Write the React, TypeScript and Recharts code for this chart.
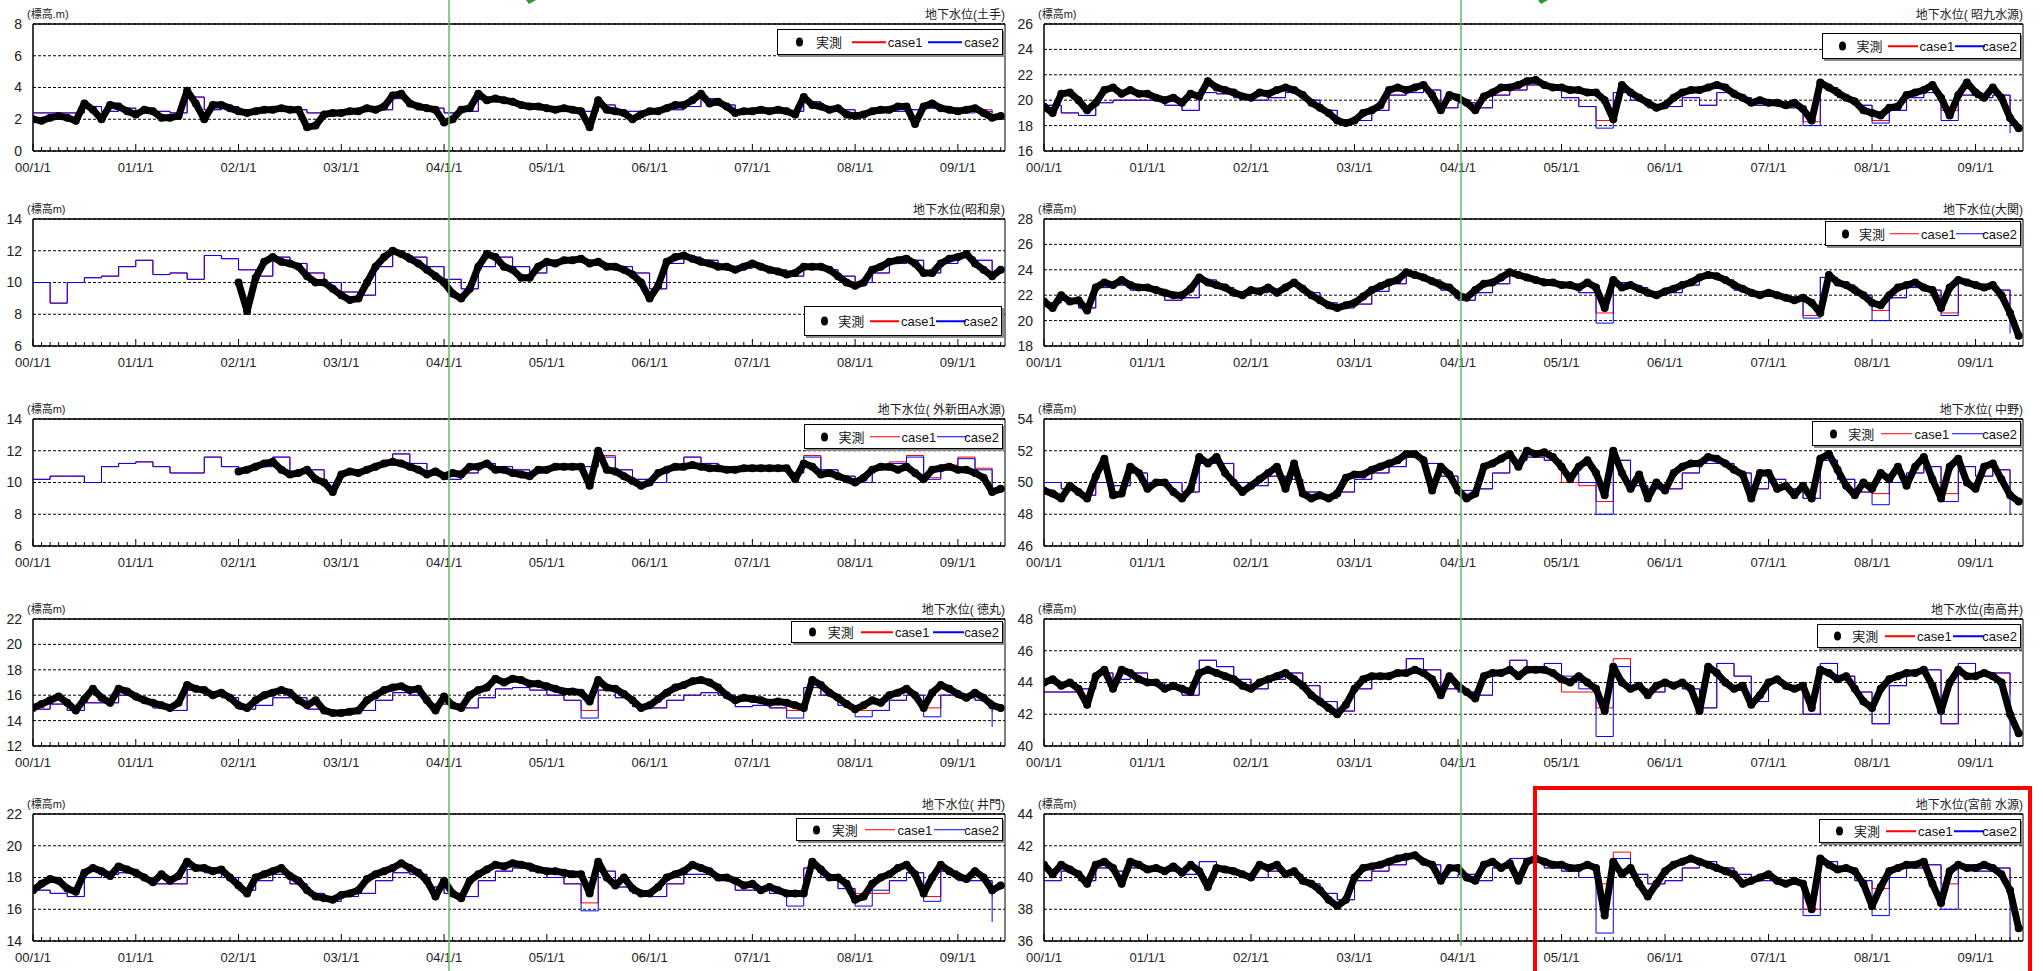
import { LineChart, Line, XAxis, YAxis, CartesianGrid, ReferenceLine } from 'recharts';

// x = months since 2000/1/1, one label per year
const YEAR_LABELS = ['00/1/1', '01/1/1', '02/1/1', '03/1/1', '04/1/1', '05/1/1', '06/1/1', '07/1/1', '08/1/1', '09/1/1'];
const MONTH_TICKS = Array.from({ length: 114 }, (_, i) => i);
const X_END = 113.5;

// 土手
const doteObs = [
  2.0, 1.9, 2.1, 2.2, 2.1, 1.9, 3.0, 2.6, 2.0, 2.9, 2.8, 2.5,
  2.3, 2.6, 2.5, 2.1, 2.1, 2.2, 3.8, 3.0, 2.0, 2.9, 2.9, 2.7,
  2.5, 2.4, 2.5, 2.6, 2.6, 2.7, 2.6, 2.6, 1.5, 1.6, 2.3, 2.4,
  2.4, 2.5, 2.5, 2.7, 2.6, 2.8, 3.5, 3.6, 3.0, 2.8, 2.7, 2.6,
  1.8, 2.0, 2.6, 2.7, 3.6, 3.2, 3.3, 3.2, 3.1, 2.9, 2.8, 2.8,
  2.7, 2.6, 2.7, 2.6, 2.5, 1.5, 3.2, 2.6, 2.5, 2.4, 2.0, 2.3,
  2.5, 2.5, 2.7, 2.9, 2.9, 3.2, 3.6, 3.0, 3.1, 2.8, 2.4, 2.5,
  2.5, 2.6, 2.5, 2.6, 2.5, 2.3, 3.4, 2.9, 2.8, 2.6, 2.7, 2.3,
  2.2, 2.3, 2.5, 2.6, 2.6, 2.8, 2.8, 1.7, 2.8, 3.0, 2.7, 2.6,
  2.5, 2.6, 2.7, 2.4, 2.1, 2.2,
];
// case lines: one value every two months
const doteCase1 = [
  2.4, 2.4, 2.4, 2.8, 2.5, 2.7, 2.4, 2.5, 2.4, 3.4, 2.6, 2.8,
  2.5, 2.5, 2.6, 2.6, 2.4, 2.3, 2.4, 2.5, 2.6, 3.3, 2.9, 2.7,
  2.4, 2.5, 3.3, 3.1, 2.9, 2.7, 2.6, 2.6, 2.5, 2.9, 2.5, 2.5,
  2.5, 2.6, 2.8, 3.3, 2.9, 2.6, 2.6, 2.5, 2.5, 3.1, 2.7, 2.6,
  2.4, 2.5, 2.5, 2.6, 2.7, 2.6, 2.5, 2.6, 2.4,
];
const doteCase2 = [
  2.4, 2.4, 2.4, 2.8, 2.5, 2.7, 2.4, 2.5, 2.4, 3.4, 2.6, 2.8,
  2.5, 2.5, 2.6, 2.6, 2.4, 2.3, 2.4, 2.5, 2.6, 3.3, 2.9, 2.7,
  2.4, 2.5, 3.3, 3.1, 2.9, 2.7, 2.6, 2.6, 2.5, 2.9, 2.5, 2.5,
  2.5, 2.6, 2.8, 3.3, 2.9, 2.5, 2.5, 2.5, 2.5, 3.1, 2.7, 2.6,
  2.4, 2.4, 2.5, 2.6, 2.7, 2.6, 2.4, 2.5, 2.4,
];

// 昭和泉
const showaObs = [
  null, null, null, null, null, null, null, null, null, null, null, null,
  null, null, null, null, null, null, null, null, null, null, null, null,
  10.0, 8.2, 10.3, 11.3, 11.6, 11.3, 11.2, 11.0, 10.4, 10.0, 10.0, 9.6,
  9.2, 8.9, 9.0, 10.0, 11.0, 11.6, 12.0, 11.8, 11.5, 11.2, 10.8, 10.4,
  10.0, 9.3, 9.0, 9.6, 11.0, 11.8, 11.6, 11.0, 10.8, 10.3, 10.3, 11.0,
  11.3, 11.2, 11.4, 11.4, 11.5, 11.2, 11.3, 11.0, 11.0, 10.8, 10.5, 10.0,
  9.0, 9.8, 11.3, 11.6, 11.7, 11.5, 11.3, 11.2, 11.0, 11.0, 10.8, 11.0,
  11.2, 11.0, 10.8, 10.7, 10.5, 10.6, 11.0, 11.0, 11.0, 10.8, 10.4, 10.0,
  9.8, 10.0, 10.8, 11.0, 11.3, 11.4, 11.5, 11.2, 10.6, 10.6, 11.2, 11.5,
  11.6, 11.8, 11.2, 10.8, 10.4, 10.8,
];
const showaCase1 = [
  10.0, 8.7, 10.0, 10.3, 10.4, 11.0, 11.4, 10.5, 10.6, 10.2, 11.7, 11.5,
  10.8, 10.4, 11.6, 11.2, 10.6, 10.0, 9.4, 9.2, 11.0, 11.8, 11.6, 11.0,
  10.2, 9.6, 11.0, 11.6, 11.0, 10.6, 11.4, 11.4, 11.4, 11.2, 11.0, 10.6,
  9.6, 11.2, 11.6, 11.4, 11.0, 10.9, 11.0, 10.8, 10.4, 11.0, 10.8, 10.4,
  10.0, 10.6, 11.2, 11.4, 10.6, 11.2, 11.6, 11.4, 10.6,
];
const showaCase2 = [
  10.0, 8.7, 10.0, 10.3, 10.4, 11.0, 11.4, 10.5, 10.6, 10.2, 11.7, 11.5,
  10.8, 10.4, 11.6, 11.2, 10.6, 10.0, 9.4, 9.2, 11.0, 11.8, 11.6, 11.0,
  10.2, 9.6, 11.0, 11.6, 11.0, 10.6, 11.4, 11.4, 11.4, 11.2, 11.0, 10.6,
  9.6, 11.2, 11.6, 11.4, 11.0, 10.9, 11.0, 10.8, 10.4, 11.0, 10.8, 10.4,
  10.0, 10.6, 11.2, 11.4, 10.6, 11.2, 11.6, 11.4, 10.6,
];

// 外新田A水源
const sotoObs = [
  null, null, null, null, null, null, null, null, null, null, null, null,
  null, null, null, null, null, null, null, null, null, null, null, null,
  10.7, 10.8, 11.0, 11.2, 11.3, 10.8, 10.5, 10.6, 10.8, 10.2, 10.0, 9.4,
  10.5, 10.7, 10.6, 10.8, 11.0, 11.2, 11.3, 11.2, 11.0, 10.8, 10.5, 10.7,
  10.4, 10.6, 10.5, 11.0, 11.0, 11.2, 10.8, 10.8, 10.6, 10.5, 10.4, 10.8,
  10.8, 11.0, 11.0, 11.0, 11.0, 9.8, 12.0, 10.8, 10.7, 10.4, 10.1, 9.8,
  10.0, 10.6, 10.8, 11.0, 11.0, 11.1, 11.0, 10.9, 10.9, 10.8, 10.8, 10.9,
  10.9, 10.9, 10.9, 10.9, 10.9, 10.2, 11.2, 11.0, 10.5, 10.6, 10.4, 10.2,
  10.0, 10.3, 10.8, 11.0, 11.0, 10.8, 11.0, 10.6, 10.2, 10.8, 10.9, 11.0,
  10.8, 10.8, 10.6, 10.3, 9.4, 9.6,
];
const sotoCase1 = [
  10.2, 10.4, 10.4, 10.0, 11.0, 11.2, 11.3, 11.0, 10.6, 10.6, 11.6, 11.0,
  10.8, 11.0, 11.6, 10.6, 10.8, 10.0, 10.5, 10.8, 11.2, 11.8, 11.2, 10.6,
  10.2, 10.6, 11.2, 11.0, 10.8, 10.6, 11.0, 11.1, 11.0, 11.7, 10.8, 10.2,
  10.0, 10.8, 11.6, 11.2, 11.0, 10.9, 10.9, 10.8, 10.6, 11.7, 10.8, 10.4,
  10.0, 10.8, 11.3, 11.7, 10.3, 11.1, 11.6, 10.9, 9.8,
];
const sotoCase2 = [
  10.2, 10.4, 10.4, 10.0, 11.0, 11.2, 11.3, 11.0, 10.6, 10.6, 11.6, 11.0,
  10.8, 11.0, 11.6, 10.6, 10.8, 10.0, 10.5, 10.8, 11.2, 11.8, 11.2, 10.6,
  10.2, 10.6, 11.2, 11.0, 10.8, 10.6, 11.0, 11.1, 11.0, 11.6, 10.8, 10.2,
  10.0, 10.8, 11.6, 11.2, 11.0, 10.9, 10.9, 10.8, 10.6, 11.6, 10.8, 10.4,
  10.0, 10.8, 11.2, 11.6, 10.2, 11.0, 11.5, 10.8, 9.6,
];

// 徳丸
const tokumaruObs = [
  15.0, 15.3, 15.6, 15.9, 15.4, 14.8, 15.7, 16.5, 15.8, 15.4, 16.5, 16.3,
  15.9, 15.6, 15.4, 15.2, 15.0, 15.4, 16.8, 16.5, 16.4, 16.0, 16.2, 15.8,
  15.2, 15.0, 15.6, 16.0, 16.2, 16.4, 16.2, 15.6, 15.2, 15.6, 14.8, 14.6,
  14.6, 14.7, 14.8, 15.6, 16.0, 16.4, 16.6, 16.7, 16.4, 16.5, 15.6, 14.8,
  15.9, 15.2, 15.0, 16.0, 16.4, 16.6, 17.3, 17.0, 17.3, 17.2, 16.9, 16.9,
  16.7, 16.5, 16.3, 16.3, 16.2, 15.5, 17.2, 16.6, 16.5, 16.1, 15.6, 15.0,
  15.2, 15.7, 16.2, 16.6, 16.8, 17.1, 17.2, 17.0, 16.6, 16.0, 15.6, 15.8,
  15.7, 15.6, 15.4, 15.5, 15.4, 15.2, 15.0, 17.2, 16.8, 16.2, 15.8, 15.3,
  14.9, 15.2, 15.6, 15.4, 16.0, 16.2, 16.5, 16.0, 15.0, 16.2, 16.8, 16.5,
  16.1, 15.8, 16.2, 15.8, 15.2, 15.0,
];
const tokumaruCase1 = [
  14.9, 15.3, 14.8, 15.4, 15.4, 16.0, 15.6, 15.0, 14.8, 16.4, 16.0, 15.8,
  14.9, 15.2, 15.8, 15.8, 14.9, 14.6, 14.6, 14.8, 15.6, 16.2, 16.0, 15.3,
  15.3, 15.0, 15.8, 16.5, 16.6, 16.4, 16.0, 15.6, 14.8, 16.4, 15.8, 15.1,
  15.0, 15.6, 16.0, 16.2, 16.0, 15.1, 15.2, 15.0, 14.8, 16.6, 16.0, 15.2,
  14.8, 14.8, 15.6, 16.0, 15.0, 16.0, 15.8, 15.6, 14.7,
];
const tokumaruCase2 = [
  14.9, 15.3, 14.8, 15.4, 15.4, 16.0, 15.6, 15.0, 14.8, 16.4, 16.0, 15.8,
  14.9, 15.2, 15.8, 15.8, 14.9, 14.6, 14.6, 14.8, 15.6, 16.2, 16.0, 15.3,
  15.3, 15.0, 15.8, 16.5, 16.6, 16.4, 16.0, 15.6, 14.2, 16.4, 15.8, 15.1,
  15.0, 15.6, 16.0, 16.2, 16.0, 15.1, 15.2, 15.0, 14.2, 16.6, 16.0, 15.2,
  14.3, 14.8, 15.6, 16.0, 14.3, 16.0, 15.8, 15.6, 13.5,
];

// 井門
const imonObs = [
  17.2, 17.6, 17.9, 17.8, 17.3, 17.1, 18.3, 18.6, 18.4, 18.1, 18.7, 18.5,
  18.3, 18.0, 17.7, 18.2, 17.8, 18.1, 19.0, 18.6, 18.6, 18.4, 18.5, 18.0,
  17.5, 17.0, 18.0, 18.2, 18.4, 18.6, 18.1, 17.8, 17.2, 16.8, 16.7, 16.6,
  16.9, 17.0, 17.2, 17.9, 18.2, 18.4, 18.6, 18.9, 18.6, 18.3, 17.8, 16.8,
  17.8, 17.0, 16.7, 17.8, 18.2, 18.5, 18.8, 18.7, 18.9, 18.8, 18.7, 18.5,
  18.4, 18.4, 18.3, 18.2, 18.2, 17.0, 19.0, 18.0, 17.5, 18.0, 17.3, 17.0,
  17.0, 17.4, 18.0, 18.2, 18.4, 18.8, 18.6, 18.4, 18.0, 18.0, 17.8, 17.5,
  17.6, 17.2, 17.4, 17.2, 17.0, 17.0, 17.0, 19.0, 18.5, 18.0, 18.0, 17.6,
  16.6, 16.8, 17.6, 18.0, 18.2, 18.6, 18.8, 18.2, 17.0, 18.0, 18.8, 18.4,
  18.1, 17.9, 18.4, 18.0, 17.2, 17.5,
];
const imonCase1 = [
  17.2, 17.0, 16.8, 18.0, 18.2, 18.3, 18.0, 17.6, 17.6, 18.5, 18.3, 18.0,
  17.2, 17.8, 18.2, 17.6, 17.0, 16.5, 16.8, 17.0, 17.8, 18.3, 18.2, 17.4,
  17.0, 16.8, 17.8, 18.4, 18.6, 18.4, 18.0, 17.6, 16.4, 18.4, 17.4, 17.0,
  16.8, 17.6, 18.2, 18.2, 17.8, 17.2, 17.2, 17.0, 16.9, 18.6, 18.0, 17.3,
  17.0, 17.0, 17.8, 18.3, 16.8, 18.4, 17.8, 17.8, 16.8,
];
const imonCase2 = [
  17.2, 17.0, 16.8, 18.0, 18.2, 18.3, 18.0, 17.6, 17.6, 18.5, 18.3, 18.0,
  17.2, 17.8, 18.2, 17.6, 17.0, 16.5, 16.8, 17.0, 17.8, 18.3, 18.2, 17.4,
  17.0, 16.8, 17.8, 18.4, 18.6, 18.4, 18.0, 17.6, 15.9, 18.4, 17.4, 17.0,
  16.8, 17.6, 18.2, 18.2, 17.8, 17.2, 17.2, 17.0, 16.2, 18.6, 18.0, 17.3,
  16.2, 17.2, 17.8, 18.3, 16.5, 18.4, 17.8, 17.8, 15.2,
];

// 昭九水源
const shokyuObs = [
  19.5, 19.0, 20.5, 20.6, 20.0, 19.2, 19.8, 20.8, 21.0, 20.5, 20.8, 20.5,
  20.5, 20.2, 20.0, 20.2, 19.8, 20.5, 20.3, 21.5, 21.0, 20.8, 20.6, 20.3,
  20.2, 20.6, 20.5, 20.8, 21.0, 20.8, 20.4, 19.8, 19.4, 19.0, 18.4, 18.2,
  18.4, 19.0, 19.2, 19.6, 20.8, 21.0, 20.8, 21.0, 21.2, 20.4, 19.2, 20.4,
  20.2, 19.8, 19.2, 20.3, 20.6, 21.0, 21.0, 21.2, 21.5, 21.6, 21.2, 21.0,
  21.0, 20.8, 20.8, 20.6, 20.6, 20.0, 18.5, 21.2, 20.6, 20.2, 19.8, 19.4,
  19.6, 20.2, 20.6, 20.8, 20.8, 21.0, 21.2, 21.0, 20.5, 20.2, 19.8, 20.0,
  19.8, 19.8, 19.6, 19.8, 19.3, 18.4, 21.4, 21.0, 20.6, 20.2, 19.9, 19.2,
  19.0, 18.8, 19.4, 19.5, 20.4, 20.6, 20.8, 21.2, 20.2, 18.8, 20.4, 21.4,
  20.6, 20.2, 21.0, 20.2, 18.6, 17.8,
];
const shokyuCase1 = [
  19.6, 19.0, 18.8, 19.8, 20.0, 20.0, 20.0, 19.6, 19.2, 20.6, 20.5, 20.2,
  20.0, 20.2, 20.6, 20.0, 19.2, 18.2, 18.4, 19.2, 20.4, 20.6, 20.8, 19.4,
  19.8, 19.4, 20.4, 20.8, 21.2, 21.0, 20.2, 19.5, 18.4, 20.6, 20.0, 19.4,
  19.5, 20.2, 19.6, 20.6, 20.2, 19.6, 19.6, 19.4, 18.3, 21.0, 20.2, 19.6,
  18.4, 19.2, 20.2, 20.6, 19.2, 20.4, 20.2, 20.4, 18.9,
];
const shokyuCase2 = [
  19.6, 19.0, 18.8, 19.8, 20.0, 20.0, 20.0, 19.6, 19.2, 20.6, 20.5, 20.2,
  20.0, 20.2, 20.6, 20.0, 19.2, 18.2, 18.4, 19.2, 20.4, 20.6, 20.8, 19.4,
  19.8, 19.4, 20.4, 20.8, 21.2, 21.0, 20.2, 19.5, 17.8, 20.6, 20.0, 19.4,
  19.5, 20.2, 19.6, 20.6, 20.2, 19.6, 19.6, 19.4, 18.0, 21.0, 20.2, 19.6,
  18.2, 19.2, 20.2, 20.6, 18.4, 20.4, 20.2, 20.4, 17.4,
];

// 大関
const ozekiObs = [
  21.5, 21.0, 22.0, 21.5, 21.6, 20.8, 22.6, 23.0, 22.8, 23.2, 22.8, 22.6,
  22.6, 22.4, 22.2, 22.0, 22.0, 22.5, 23.4, 23.0, 22.8, 22.6, 22.2, 22.0,
  22.4, 22.3, 22.6, 22.2, 22.6, 23.0, 22.5, 22.0, 21.6, 21.2, 21.0, 21.2,
  21.4, 21.9, 22.4, 22.7, 23.0, 23.2, 23.8, 23.6, 23.4, 23.1, 22.8, 22.6,
  22.0, 21.8, 22.4, 22.9, 23.0, 23.4, 23.8, 23.6, 23.4, 23.2, 23.0, 23.0,
  22.8, 22.8, 22.6, 23.0, 22.6, 21.0, 23.2, 22.6, 22.8, 22.5, 22.2, 22.0,
  22.3, 22.5, 22.8, 23.0, 23.4, 23.6, 23.5, 23.2, 22.8, 22.5, 22.2, 22.0,
  22.2, 22.0, 21.8, 21.6, 21.8, 21.4, 20.6, 23.6, 23.0, 22.8, 22.4, 22.0,
  21.4, 21.2, 22.0, 22.6, 22.8, 23.0, 22.6, 22.4, 21.0, 22.6, 23.2, 23.0,
  22.8, 22.6, 22.8, 22.0, 20.6, 18.8,
];
const ozekiCase1 = [
  21.4, 21.6, 21.0, 22.6, 22.8, 22.4, 22.4, 21.6, 21.8, 23.2, 22.6, 22.0,
  22.2, 22.4, 22.8, 22.2, 21.4, 21.0, 21.3, 22.3, 22.9, 23.6, 23.2, 22.4,
  21.6, 22.2, 22.9, 23.6, 23.3, 22.9, 22.6, 22.2, 20.6, 23.0, 22.6, 22.0,
  22.2, 22.8, 23.4, 23.2, 22.4, 21.9, 21.9, 21.6, 20.4, 23.4, 22.8, 22.0,
  20.8, 21.8, 22.6, 22.4, 20.6, 23.0, 22.6, 22.4, 21.3,
];
const ozekiCase2 = [
  21.4, 21.6, 21.0, 22.6, 22.8, 22.4, 22.4, 21.6, 21.8, 23.2, 22.6, 22.0,
  22.2, 22.4, 22.8, 22.2, 21.4, 21.0, 21.3, 22.3, 22.9, 23.6, 23.2, 22.4,
  21.6, 22.2, 22.9, 23.6, 23.3, 22.9, 22.6, 22.2, 19.8, 23.0, 22.6, 22.0,
  22.2, 22.8, 23.4, 23.2, 22.4, 21.9, 21.9, 21.6, 20.2, 23.4, 22.8, 22.0,
  20.0, 21.8, 22.6, 22.4, 20.4, 23.0, 22.6, 22.4, 19.0,
];

// 中野
const nakanoObs = [
  49.5, 49.3, 49.0, 49.8, 49.4, 49.0, 50.4, 51.5, 49.2, 49.3, 51.0, 50.6,
  49.6, 50.0, 50.0, 49.4, 49.0, 49.6, 51.6, 51.2, 51.6, 50.6, 50.0, 49.4,
  49.8, 50.2, 50.6, 51.0, 49.6, 51.2, 49.3, 49.0, 49.2, 49.0, 49.3, 50.3,
  50.5, 50.5, 50.8, 51.0, 51.2, 51.4, 51.8, 51.8, 51.4, 49.5, 51.0, 50.5,
  49.5, 49.0, 49.3, 51.0, 51.2, 51.5, 51.8, 51.0, 52.0, 51.8, 51.9, 51.6,
  51.0, 50.2, 51.0, 51.4, 50.6, 49.2, 52.0, 50.6, 49.6, 50.5, 49.0, 50.0,
  49.5, 50.6, 51.0, 51.2, 51.2, 51.6, 51.5, 51.2, 50.8, 50.5, 49.0, 50.6,
  50.6, 49.6, 49.8, 49.2, 49.8, 49.0, 51.5, 51.8, 50.8, 49.8, 49.2, 50.0,
  49.6, 50.6, 50.2, 51.0, 49.8, 51.0, 51.6, 50.2, 49.0, 51.0, 51.5, 50.0,
  49.6, 51.0, 51.2, 50.2, 49.2, 48.8,
];
const nakanoCase1 = [
  50.0, 49.6, 49.2, 50.0, 49.8, 50.6, 50.0, 50.0, 49.4, 51.2, 51.2, 50.0,
  49.8, 50.4, 50.2, 49.4, 49.0, 49.4, 50.2, 50.6, 51.0, 51.6, 51.2, 50.4,
  49.5, 49.6, 50.6, 51.4, 51.6, 51.4, 50.0, 49.8, 48.8, 51.4, 49.8, 49.6,
  49.6, 50.6, 51.2, 51.2, 50.6, 49.6, 50.2, 49.6, 49.0, 51.4, 50.2, 49.4,
  49.3, 50.0, 50.6, 51.0, 49.3, 51.0, 50.4, 50.8, 49.2,
];
const nakanoCase2 = [
  50.0, 49.6, 49.2, 50.0, 49.8, 50.6, 50.0, 50.0, 49.4, 51.2, 51.2, 50.0,
  49.8, 50.4, 50.2, 49.4, 49.0, 49.4, 50.2, 50.6, 51.0, 51.6, 51.2, 50.4,
  49.5, 49.6, 50.6, 51.4, 51.6, 51.4, 50.6, 50.0, 48.0, 51.4, 49.8, 49.6,
  49.6, 50.6, 51.2, 51.2, 50.6, 49.6, 50.2, 49.6, 49.0, 51.4, 50.2, 49.4,
  48.6, 50.0, 50.6, 51.0, 48.8, 51.0, 50.4, 50.8, 48.0,
];

// 南高井
const minamiObs = [
  44.0, 44.2, 43.8, 44.0, 43.6, 42.6, 44.4, 44.8, 43.6, 44.8, 44.6, 44.2,
  44.0, 44.0, 43.6, 43.8, 43.6, 43.4, 44.6, 44.8, 44.6, 44.4, 44.2, 43.8,
  43.6, 44.0, 44.2, 44.4, 44.6, 44.2, 43.8, 43.2, 42.8, 42.4, 42.0, 42.6,
  43.6, 44.2, 44.4, 44.4, 44.4, 44.6, 44.6, 44.8, 44.6, 44.2, 43.2, 44.4,
  43.8, 43.4, 43.0, 44.4, 44.6, 44.6, 44.8, 44.4, 44.8, 44.8, 44.8, 44.6,
  44.2, 44.0, 44.4, 44.0, 43.6, 42.2, 45.0, 44.0, 43.6, 43.8, 43.2, 43.8,
  44.0, 43.8, 44.0, 43.6, 42.2, 45.0, 44.6, 44.0, 43.6, 43.8, 42.6, 43.2,
  44.0, 44.2, 43.8, 43.6, 43.8, 42.4, 44.8, 44.6, 44.2, 44.4, 43.6, 42.8,
  42.4, 43.6, 44.2, 44.4, 44.6, 44.6, 44.8, 43.8, 42.2, 44.0, 44.8, 44.4,
  44.4, 44.6, 44.4, 44.0, 42.0, 40.8,
];
const minamiCase1 = [
  43.4, 43.4, 43.6, 44.6, 44.2, 44.6, 44.0, 43.6, 43.2, 45.4, 45.0, 44.2,
  43.6, 44.2, 44.6, 43.8, 42.8, 42.2, 43.6, 44.4, 44.6, 45.5, 44.8, 43.6,
  43.4, 43.2, 44.6, 45.4, 45.0, 45.2, 43.4, 43.4, 42.4, 45.5, 43.6, 43.4,
  43.8, 43.6, 42.4, 45.2, 44.4, 42.8, 44.0, 43.6, 42.0, 45.2, 44.4, 43.4,
  41.4, 43.8, 44.6, 44.8, 41.4, 45.2, 44.4, 44.6, 43.2,
];
const minamiCase2 = [
  43.4, 43.4, 43.6, 44.6, 44.2, 44.6, 44.0, 43.6, 43.2, 45.4, 45.0, 44.2,
  43.6, 44.2, 44.6, 43.8, 42.8, 42.2, 43.6, 44.4, 44.6, 45.5, 44.8, 43.6,
  43.4, 43.2, 44.6, 45.4, 45.0, 45.2, 44.4, 43.6, 40.6, 45.0, 43.6, 43.4,
  43.8, 43.6, 42.4, 45.2, 44.4, 42.8, 44.0, 43.6, 42.0, 45.2, 44.4, 43.4,
  41.4, 43.8, 44.6, 44.8, 41.4, 45.2, 44.4, 44.6, 40.0,
];

// 宮前水源
const miyamaeObs = [
  40.8, 40.2, 40.8, 40.5, 40.2, 39.6, 40.8, 41.0, 40.6, 39.6, 41.0, 40.8,
  40.5, 40.6, 40.4, 40.7, 40.3, 40.8, 40.4, 39.4, 40.6, 40.5, 40.4, 40.2,
  40.0, 40.8, 40.6, 40.8, 40.2, 40.4, 39.8, 39.6, 39.2, 38.6, 38.2, 38.6,
  40.0, 40.6, 40.7, 40.8, 41.0, 41.2, 41.3, 41.4, 41.0, 40.8, 39.8, 40.6,
  40.6, 40.0, 39.8, 40.8, 41.0, 40.6, 40.9, 39.8, 41.0, 41.2, 41.0, 40.8,
  40.8, 40.6, 40.6, 40.8, 40.6, 37.6, 41.0, 40.2, 40.6, 39.6, 38.8, 39.6,
  40.4, 40.8, 41.0, 41.2, 41.0, 40.8, 40.6, 40.4, 40.2, 39.6, 39.8, 40.0,
  40.2, 39.8, 39.6, 39.8, 39.6, 38.0, 41.2, 40.8, 40.5, 40.6, 40.4, 39.6,
  38.2, 39.4, 40.4, 40.6, 40.8, 40.8, 41.0, 39.6, 38.4, 40.4, 40.8, 40.6,
  40.6, 40.8, 40.6, 40.2, 39.2, 36.8,
];
const miyamaeCase1 = [
  39.8, 40.4, 39.8, 40.6, 40.4, 40.6, 40.4, 40.4, 40.2, 41.0, 40.6, 40.2,
  40.0, 40.4, 40.2, 39.6, 39.0, 38.6, 39.8, 40.4, 40.8, 41.2, 40.8, 40.0,
  40.2, 39.8, 40.6, 41.2, 41.0, 40.6, 40.4, 40.0, 39.6, 41.6, 40.2, 39.6,
  39.8, 40.6, 41.0, 40.6, 40.2, 39.8, 39.8, 39.6, 38.0, 41.0, 40.4, 39.8,
  39.3, 40.0, 40.6, 40.8, 39.6, 40.8, 40.4, 40.6, 39.4,
];
const miyamaeCase2 = [
  39.8, 40.4, 39.8, 40.6, 40.4, 40.6, 40.4, 40.4, 40.2, 41.0, 40.6, 40.2,
  40.0, 40.4, 40.2, 39.6, 39.0, 38.6, 39.8, 40.4, 40.8, 41.2, 40.8, 40.0,
  40.2, 39.8, 40.6, 41.2, 41.0, 40.6, 40.4, 40.0, 36.5, 41.2, 40.2, 39.6,
  39.8, 40.6, 41.0, 40.6, 40.2, 39.8, 39.8, 39.6, 37.6, 41.0, 40.4, 39.8,
  37.6, 40.0, 40.6, 40.8, 38.0, 40.8, 40.4, 40.6, 35.8,
];

type Spec = {
  title: string;
  unit: string;
  min: number;
  max: number;
  obs: (number | null)[];
  c1: number[];
  c2: number[];
};

const panels: Spec[] = [
  { title: '地下水位(土手)', unit: '(標高.m)', min: 0, max: 8, obs: doteObs, c1: doteCase1, c2: doteCase2 },
  { title: '地下水位(昭和泉)', unit: '(標高m)', min: 6, max: 14, obs: showaObs, c1: showaCase1, c2: showaCase2 },
  { title: '地下水位( 外新田A水源)', unit: '(標高m)', min: 6, max: 14, obs: sotoObs, c1: sotoCase1, c2: sotoCase2 },
  { title: '地下水位( 徳丸)', unit: '(標高m)', min: 12, max: 22, obs: tokumaruObs, c1: tokumaruCase1, c2: tokumaruCase2 },
  { title: '地下水位( 井門)', unit: '(標高m)', min: 14, max: 22, obs: imonObs, c1: imonCase1, c2: imonCase2 },
  { title: '地下水位( 昭九水源)', unit: '(標高m)', min: 16, max: 26, obs: shokyuObs, c1: shokyuCase1, c2: shokyuCase2 },
  { title: '地下水位(大関)', unit: '(標高m)', min: 18, max: 28, obs: ozekiObs, c1: ozekiCase1, c2: ozekiCase2 },
  { title: '地下水位( 中野)', unit: '(標高m)', min: 46, max: 54, obs: nakanoObs, c1: nakanoCase1, c2: nakanoCase2 },
  { title: '地下水位(南高井)', unit: '(標高m)', min: 40, max: 48, obs: minamiObs, c1: minamiCase1, c2: minamiCase2 },
  { title: '地下水位(宮前 水源)', unit: '(標高m)', min: 36, max: 44, obs: miyamaeObs, c1: miyamaeCase1, c2: miyamaeCase2 },
];

// plot boxes and legend boxes, page pixels
const ROW_TOPS = [24, 219, 419, 619, 814];
const PLOT_H = 127;
const COLS = [
  { x: 33, w: 972 },
  { x: 1044, w: 979 },
];
const LEGENDS = [
  { x: 777, y: 29, w: 226, h: 26 },
  { x: 804, y: 306, w: 198, h: 30 },
  { x: 804, y: 424, w: 199, h: 25 },
  { x: 791, y: 621, w: 212, h: 22 },
  { x: 796, y: 818, w: 207, h: 23 },
  { x: 1822, y: 33, w: 199, h: 26 },
  { x: 1825, y: 221, w: 196, h: 25 },
  { x: 1812, y: 421, w: 209, h: 25 },
  { x: 1817, y: 624, w: 204, h: 24 },
  { x: 1819, y: 819, w: 202, h: 24 },
];

const FONT = "'Liberation Sans', Arial, 'Noto Sans CJK JP', sans-serif";

const MonthTick = (props: any) => {
  const { x, y, payload } = props;
  const m = payload.value;
  const isYear = m % 12 === 0;
  return (
    <g>
      <line x1={x} x2={x} y1={y} y2={y - (isYear ? 7 : 4)} stroke="#000" strokeWidth={1} />
      {isYear ? (
        <text x={x} y={y + 21} textAnchor="middle" fontSize={13} fill="#222" fontFamily={FONT}>
          {YEAR_LABELS[m / 12]}
        </text>
      ) : null}
    </g>
  );
};

const LegendBox = ({ b }: { b: { x: number; y: number; w: number; h: number } }) => {
  const mid = { position: 'absolute' as const, top: '50%', transform: 'translateY(-50%)' };
  return (
    <div
      style={{
        position: 'absolute',
        left: b.x,
        top: b.y,
        width: b.w,
        height: b.h,
        boxSizing: 'border-box',
        border: '1px solid #000',
        boxShadow: '2px 2px 0 #8a8a8a',
        background: '#fff',
        fontSize: 13,
        color: '#111',
        lineHeight: 1,
      }}
    >
      <span style={{ ...mid, left: '8%', width: 7, height: 9, borderRadius: '50%', background: '#000' }} />
      <span style={{ ...mid, left: '17%' }}>実測</span>
      <span style={{ ...mid, left: '33%', width: '15%', height: 1.5, background: '#ff0000' }} />
      <span style={{ ...mid, left: '49%' }}>case1</span>
      <span style={{ ...mid, left: '67%', width: '15%', height: 1.5, background: '#0000ff' }} />
      <span style={{ ...mid, right: 3 }}>case2</span>
    </div>
  );
};

const Panel = ({ spec, x, y, w, h }: { spec: Spec; x: number; y: number; w: number; h: number }) => {
  const obsData = spec.obs.map((v, i) => ({ m: i, v }));
  const c1Data = spec.c1.map((v, i) => ({ m: i * 2, v }));
  const c2Data = spec.c2.map((v, i) => ({ m: i * 2, v }));
  const yTicks: number[] = [];
  for (let t = spec.min; t <= spec.max; t += 2) yTicks.push(t);

  return (
    <>
      <div style={{ position: 'absolute', left: x - 40, top: y - 10 }}>
        <LineChart width={w + 60} height={h + 40} margin={{ top: 10, right: 20, bottom: 0, left: 0 }}>
          <CartesianGrid vertical={false} stroke="#000" strokeDasharray="3 2" />
          <XAxis
            type="number"
            dataKey="m"
            domain={[0, X_END]}
            ticks={MONTH_TICKS}
            interval={0}
            height={30}
            tickLine={false}
            tickSize={0}
            tickMargin={0}
            axisLine={{ stroke: '#000', strokeWidth: 1.5 }}
            tick={(p: any) => <MonthTick {...p} />}
            allowDataOverflow
          />
          <YAxis
            type="number"
            domain={[spec.min, spec.max]}
            ticks={yTicks}
            width={40}
            tickLine={false}
            tickMargin={5}
            axisLine={{ stroke: '#000', strokeWidth: 1.5 }}
            tick={{ fontSize: 14, fill: '#222', fontFamily: FONT }}
            allowDataOverflow
          />
          <ReferenceLine y={spec.max} stroke="#000" strokeWidth={1.5} />
          <ReferenceLine x={X_END} stroke="#000" strokeWidth={1} />
          <Line data={c1Data} dataKey="v" type="stepAfter" stroke="#ff0000" strokeWidth={1} dot={false} isAnimationActive={false} />
          <Line data={c2Data} dataKey="v" type="stepAfter" stroke="#0000ff" strokeWidth={1} dot={false} isAnimationActive={false} />
          <Line
            data={obsData}
            dataKey="v"
            type="linear"
            stroke="#000"
            strokeWidth={7}
            strokeLinejoin="round"
            strokeLinecap="round"
            dot={{ r: 4, fill: '#000', stroke: '#000', strokeWidth: 0 }}
            connectNulls={false}
            isAnimationActive={false}
          />
        </LineChart>
      </div>
      <div style={{ position: 'absolute', left: x - 6, top: y - 19, fontSize: 11, color: '#222' }}>{spec.unit}</div>
      <div style={{ position: 'absolute', right: 2043 - (x + w), top: y - 19, fontSize: 12, color: '#222' }}>{spec.title}</div>
    </>
  );
};

export default function App() {
  return (
    <div
      style={{
        position: 'absolute',
        left: 0,
        top: 0,
        width: 2043,
        height: 971,
        background: '#fff',
        overflow: 'hidden',
        fontFamily: FONT,
      }}
    >
      {panels.map((spec, i) => {
        const col = COLS[i < 5 ? 0 : 1];
        return <Panel key={spec.title} spec={spec} x={col.x} y={ROW_TOPS[i % 5]} w={col.w} h={PLOT_H} />;
      })}
      {LEGENDS.map((b, i) => (
        <LegendBox key={i} b={b} />
      ))}
      <svg width={2043} height={971} style={{ position: 'absolute', left: 0, top: 0, pointerEvents: 'none' }}>
        <line x1={449} x2={449} y1={0} y2={971} stroke="#66bb66" strokeWidth={1.5} />
        <line x1={1461} x2={1461} y1={0} y2={946} stroke="#66bb66" strokeWidth={1.5} />
        <polygon points="526,0 536,0 529,4" fill="#2a9a2a" />
        <polygon points="1538,0 1548,0 1541,4" fill="#2a9a2a" />
        <rect x={1535} y={788} width={495} height={200} fill="none" stroke="#ff0000" strokeWidth={4} />
      </svg>
    </div>
  );
}
